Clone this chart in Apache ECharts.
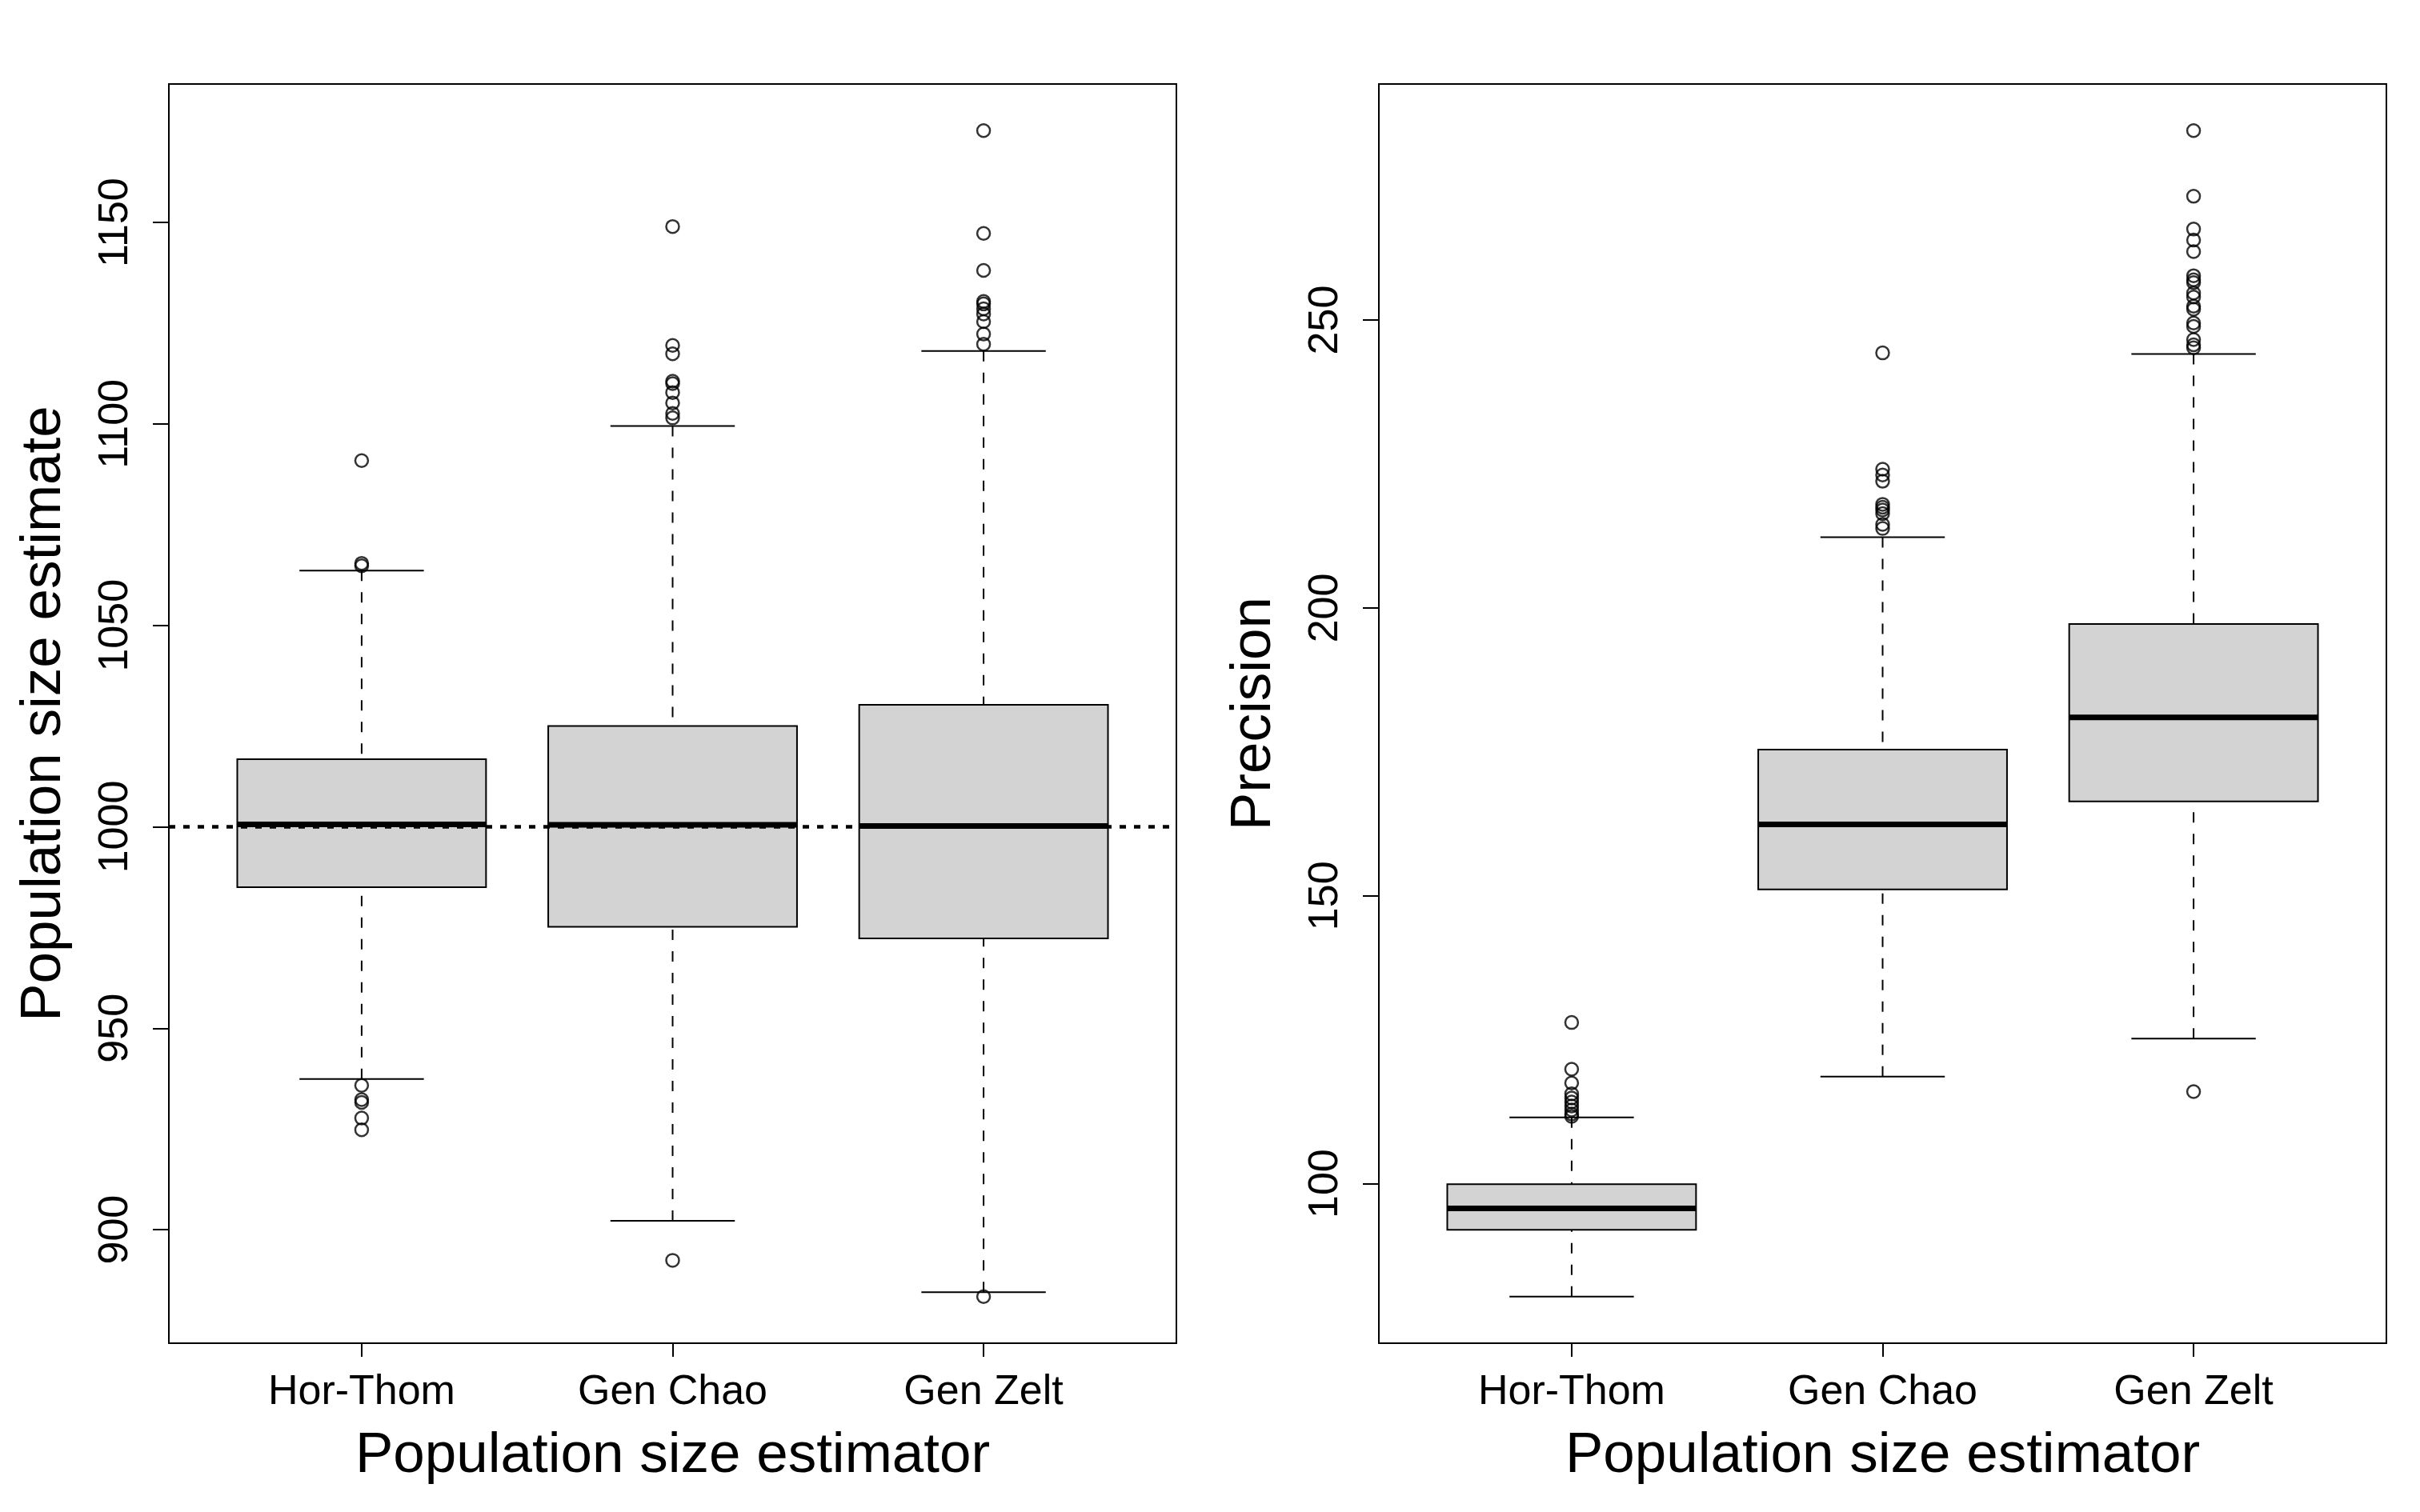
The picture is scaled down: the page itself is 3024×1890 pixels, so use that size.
<!DOCTYPE html>
<html>
<head>
<meta charset="utf-8">
<script src="https://cdn.jsdelivr.net/npm/echarts@6/dist/echarts.min.js"></script>
<style>
  html, body { margin: 0; padding: 0; background: #fff; }
  #main { width: 3024px; height: 1890px; }
</style>
</head>
<body>
<div id="main"></div>
<script>
var estimators = ['Hor-Thom', 'Gen Chao', 'Gen Zelt'];
// [lower whisker, Q1, median, Q3, upper whisker]
var sizeStats = [
  [937.4, 985.0, 1000.6, 1016.8, 1063.6],
  [902.2, 975.2, 1000.5, 1025.0, 1099.5],
  [884.5, 972.3, 1000.2, 1030.3, 1118.1]
];
var sizeOutliers = [
  [1090.9, 1065.4, 1064.8, 935.8, 932.3, 931.6, 927.7, 924.8],
  [1149.0, 1119.5, 1117.4, 1110.6, 1110.0, 1107.8, 1105.2, 1102.6, 1101.5, 892.4],
  [1172.8, 1147.3, 1138.1, 1130.4, 1129.8, 1128.6, 1127.3, 1125.4, 1122.3, 1119.8, 883.4]
];
var precisionStats = [
  [80.4, 92.0, 95.7, 99.9, 111.5],
  [118.6, 151.1, 162.4, 175.4, 212.3],
  [125.2, 166.4, 181.0, 197.2, 244.1]
];
var precisionOutliers = [
  [128.0, 119.9, 117.5, 115.6, 114.9, 114.2, 113.5, 112.8, 112.1, 111.7],
  [244.3, 224.1, 223.1, 222.0, 218.0, 217.5, 217.0, 216.4, 214.5, 213.8],
  [282.9, 271.5, 265.8, 263.9, 261.9, 257.7, 257.0, 256.5, 254.7, 254.0, 252.4, 251.9,
   249.5, 248.9, 246.6, 245.7, 245.2, 116.0]
];
var sizeTicks = [900, 950, 1000, 1050, 1100, 1150];
var precisionTicks = [100, 150, 200, 250];
var trueSize = 1000;

var FONT = 'Liberation Sans';

// R style range: data range plus 4% each side
function rRange(stats, outs) {
  var all = [];
  stats.forEach(function (s) { all = all.concat(s); });
  outs.forEach(function (o) { all = all.concat(o); });
  var lo = Math.min.apply(null, all), hi = Math.max.apply(null, all);
  var pad = (hi - lo) * 0.04;
  return [lo - pad, hi + pad];
}

function boxData(stats) {
  return stats.map(function (s, i) { return [i + 1].concat(s); });
}
function outlierData(outs) {
  var res = [];
  outs.forEach(function (o, i) {
    o.forEach(function (v) { res.push([i + 1, v]); });
  });
  return res;
}

function renderBox(params, api) {
  var x = api.value(0);
  var lo = api.coord([x, api.value(1)]);
  var q1 = api.coord([x, api.value(2)]);
  var med = api.coord([x, api.value(3)]);
  var q3 = api.coord([x, api.value(4)]);
  var hi = api.coord([x, api.value(5)]);
  var cx = lo[0];
  var halfW = api.size([0.8, 0])[0] / 2;
  var capW = halfW / 2;
  var dash = { stroke: '#000', lineWidth: 2, lineDash: [13, 14] };
  var solid = { stroke: '#000', lineWidth: 2 };
  return {
    type: 'group',
    children: [
      { type: 'line', shape: { x1: cx, y1: hi[1], x2: cx, y2: q3[1] }, style: dash },
      { type: 'line', shape: { x1: cx, y1: lo[1], x2: cx, y2: q1[1] }, style: dash },
      { type: 'line', shape: { x1: cx - capW, y1: hi[1], x2: cx + capW, y2: hi[1] }, style: solid },
      { type: 'line', shape: { x1: cx - capW, y1: lo[1], x2: cx + capW, y2: lo[1] }, style: solid },
      { type: 'rect', shape: { x: cx - halfW, y: q3[1], width: halfW * 2, height: q1[1] - q3[1] },
        style: { fill: '#d3d3d3', stroke: '#000', lineWidth: 2 } },
      { type: 'line', shape: { x1: cx - halfW, y1: med[1], x2: cx + halfW, y2: med[1] },
        style: { stroke: '#000', lineWidth: 7 } }
    ]
  };
}

function xAxisFor(idx) {
  return {
    gridIndex: idx,
    type: 'value',
    min: 0.38,
    max: 3.62,
    name: 'Population size estimator',
    nameLocation: 'middle',
    nameGap: 106,
    nameTextStyle: { fontFamily: FONT, fontSize: 71, color: '#000' },
    axisLine: { show: true, onZero: false, lineStyle: { color: '#000', width: 2 } },
    axisTick: { show: true, length: 17, customValues: [1, 2, 3], lineStyle: { color: '#000', width: 2 } },
    axisLabel: {
      customValues: [1, 2, 3],
      margin: 36,
      fontFamily: FONT, fontSize: 52, color: '#000',
      formatter: function (v) { return estimators[Math.round(v) - 1] || ''; }
    },
    splitLine: { show: false }
  };
}

function yAxisFor(idx, range, ticks, title) {
  return {
    gridIndex: idx,
    type: 'value',
    min: range[0],
    max: range[1],
    name: title,
    nameLocation: 'middle',
    nameGap: 120,
    nameTextStyle: { fontFamily: FONT, fontSize: 71, color: '#000' },
    axisLine: { show: true, onZero: false, lineStyle: { color: '#000', width: 2 } },
    axisTick: { show: true, length: 20, customValues: ticks, lineStyle: { color: '#000', width: 2 } },
    axisLabel: {
      customValues: ticks,
      rotate: 90,
      margin: 40,
      fontFamily: FONT, fontSize: 52, color: '#000',
      formatter: function (v) { return String(v); }
    },
    splitLine: { show: false }
  };
}

var outlierStyle = { color: 'rgba(0,0,0,0)', borderColor: '#000', borderWidth: 2.5 };

var chart = echarts.init(document.getElementById('main'), null, { renderer: 'canvas' });
var option = {
  animation: false,
  backgroundColor: '#fff',
  grid: [
    { left: 211, top: 105, width: 1259, height: 1574, show: true, borderColor: '#000', borderWidth: 2 },
    { left: 1723, top: 105, width: 1259, height: 1574, show: true, borderColor: '#000', borderWidth: 2 }
  ],
  xAxis: [xAxisFor(0), xAxisFor(1)],
  yAxis: [
    yAxisFor(0, rRange(sizeStats, sizeOutliers), sizeTicks, 'Population size estimate'),
    yAxisFor(1, rRange(precisionStats, precisionOutliers), precisionTicks, 'Precision')
  ],
  series: [
    {
      type: 'custom', xAxisIndex: 0, yAxisIndex: 0,
      renderItem: renderBox, data: boxData(sizeStats), z: 2
    },
    {
      type: 'scatter', xAxisIndex: 0, yAxisIndex: 0,
      symbol: 'circle', symbolSize: 16, itemStyle: outlierStyle,
      data: outlierData(sizeOutliers), z: 3
    },
    {
      type: 'line', xAxisIndex: 0, yAxisIndex: 0, data: [], z: 4,
      markLine: {
        silent: true, symbol: 'none', label: { show: false },
        lineStyle: { color: '#000', width: 4.5, type: [8, 10] },
        data: [{ yAxis: trueSize }]
      }
    },
    {
      type: 'custom', xAxisIndex: 1, yAxisIndex: 1,
      renderItem: renderBox, data: boxData(precisionStats), z: 2
    },
    {
      type: 'scatter', xAxisIndex: 1, yAxisIndex: 1,
      symbol: 'circle', symbolSize: 16, itemStyle: outlierStyle,
      data: outlierData(precisionOutliers), z: 3
    }
  ]
};
chart.setOption(option);
</script>
</body>
</html>
